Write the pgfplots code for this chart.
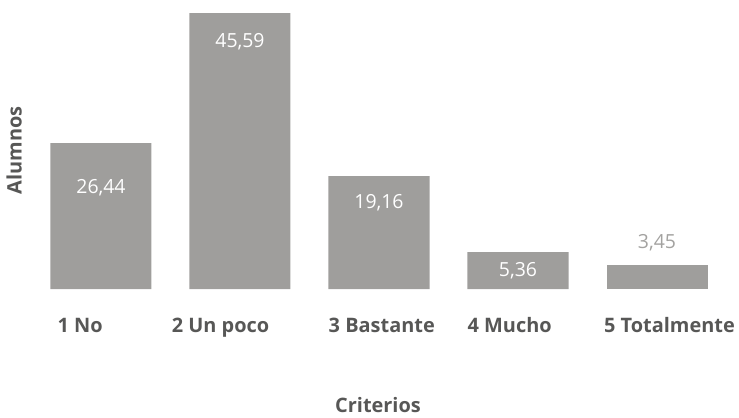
\documentclass[border=0pt]{standalone}
\usepackage{pgfplots}
\usepackage{pgfplotstable}
\pgfplotsset{compat=1.18}
\usepackage{fontspec}
\setmainfont{Open Sans}
\definecolor{bargray}{HTML}{9F9E9C}
\definecolor{txtgray}{HTML}{575756}
\definecolor{lblgray}{HTML}{A3A2A0}
\pgfplotstableread{
x h lab dy
0 24.12 {26,44} -45
1 45.59 {45,59} -29
2 18.66 {19,16} -27
3 6.11 {5,36} -19
}\mainbars
\pgfplotstableread{
x h lab dy
4 3.96 {3,45} 22
}\lastbar
\begin{document}
\begin{tikzpicture}
\begin{axis}[
 scale only axis, width=739bp, height=417bp,
 xmin=-0.7266, xmax=4.590, ymin=-21.14, ymax=47.74,
 axis line style={draw=none}, major tick length=0pt,
 ytick=\empty,
 xtick={-0.15,0.86,2.02,2.94,4.09},
 xticklabels={1 No, 2 Un poco, 3 Bastante, 4 Mucho, 5 Totalmente},
 xticklabel style={font=\fontsize{20}{22}\selectfont\bfseries, text=txtgray, anchor=base, yshift=85bp},
 clip=false,
]
\addplot[ybar, bar width=101bp, bar shift=0pt, fill=bargray, draw=none,
  point meta=explicit symbolic,
  visualization depends on={\thisrow{dy} \as \dy},
  nodes near coords,
  nodes near coords style={anchor=center, yshift=\dy bp, text=white, font=\fontsize{19.5}{22}\selectfont}]
  table[x=x, y=h, meta=lab] {\mainbars};
\addplot[ybar, bar width=101bp, bar shift=0pt, fill=bargray, draw=none,
  point meta=explicit symbolic,
  visualization depends on={\thisrow{dy} \as \dy},
  nodes near coords,
  nodes near coords style={anchor=center, yshift=\dy bp, text=lblgray, font=\fontsize{19.5}{22}\selectfont}]
  table[x=x, y=h, meta=lab] {\lastbar};
\node[rotate=90, text=txtgray, font=\fontsize{20}{22}\selectfont\bfseries] at (rel axis cs:0.019,0.640) {Alumnos};
\node[anchor=base, inner sep=0pt, text=txtgray, font=\fontsize{20}{22}\selectfont\bfseries] at (rel axis cs:0.5115,0.0120) {Criterios};
\end{axis}
\end{tikzpicture}
\end{document}
